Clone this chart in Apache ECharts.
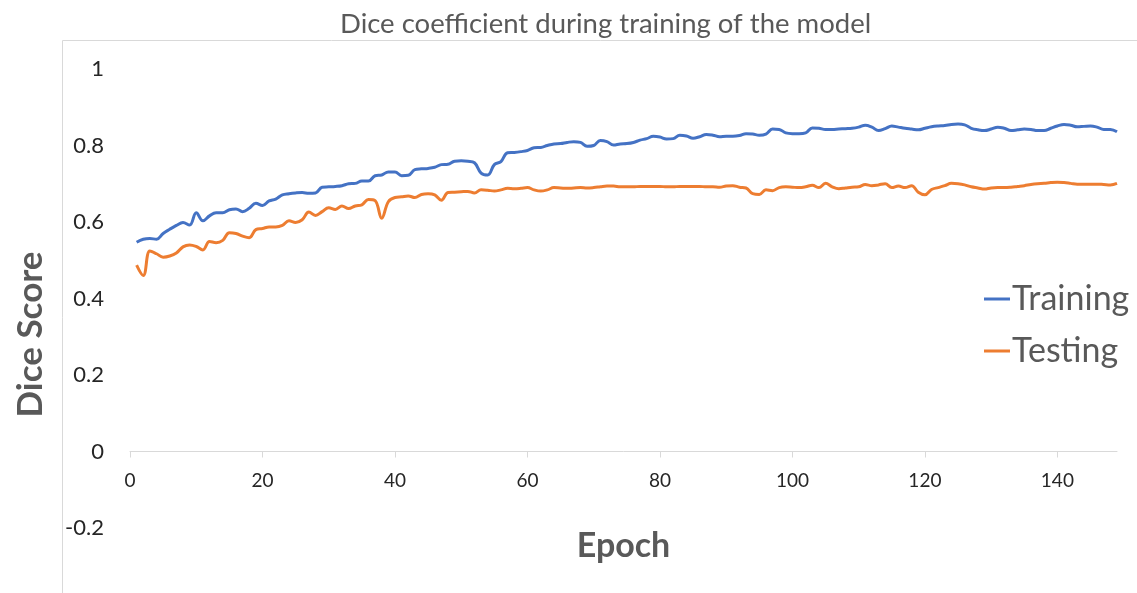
<!DOCTYPE html>
<html>
<head>
<meta charset="utf-8">
<title>Dice coefficient</title>
<script src="https://cdn.jsdelivr.net/npm/echarts@6/dist/echarts.min.js"></script>
<style>
  html, body { margin: 0; padding: 0; background: #fff; }
  #chart { width: 1137px; height: 593px; }
</style>
</head>
<body>
<div id="chart"></div>
<script>
// values, one per epoch (1..149)
var training = [
  0.547, 0.555, 0.557, 0.555, 0.570, 0.581, 0.591, 0.599, 0.592, 0.624,
  0.603, 0.616, 0.624, 0.624, 0.632, 0.634, 0.627, 0.636, 0.649, 0.643,
  0.655, 0.660, 0.671, 0.674, 0.676, 0.677, 0.675, 0.676, 0.691, 0.692,
  0.693, 0.695, 0.700, 0.701, 0.707, 0.707, 0.721, 0.723, 0.731, 0.731,
  0.721, 0.722, 0.737, 0.739, 0.740, 0.743, 0.750, 0.751, 0.759, 0.760,
  0.759, 0.755, 0.728, 0.723, 0.750, 0.758, 0.781, 0.782, 0.784, 0.787,
  0.794, 0.795, 0.800, 0.804, 0.805, 0.808, 0.810, 0.808, 0.798, 0.800,
  0.813, 0.810, 0.801, 0.804, 0.805, 0.808, 0.814, 0.818, 0.824, 0.822,
  0.817, 0.818, 0.827, 0.825, 0.819, 0.823, 0.829, 0.827, 0.823, 0.824,
  0.824, 0.826, 0.831, 0.830, 0.827, 0.830, 0.843, 0.842, 0.833, 0.831,
  0.831, 0.833, 0.846, 0.845, 0.842, 0.842, 0.843, 0.844, 0.845, 0.848,
  0.853, 0.848, 0.839, 0.844, 0.851, 0.848, 0.845, 0.843, 0.841, 0.845,
  0.849, 0.851, 0.852, 0.855, 0.856, 0.854, 0.845, 0.841, 0.839, 0.843,
  0.848, 0.845, 0.839, 0.841, 0.843, 0.842, 0.839, 0.839, 0.845, 0.851,
  0.855, 0.853, 0.849, 0.850, 0.851, 0.848, 0.842, 0.842, 0.836
];
var testing = [
  0.487, 0.460, 0.524, 0.517, 0.508, 0.511, 0.519, 0.535, 0.540, 0.536,
  0.527, 0.549, 0.546, 0.552, 0.572, 0.570, 0.563, 0.559, 0.580, 0.583,
  0.587, 0.587, 0.591, 0.603, 0.599, 0.606, 0.626, 0.617, 0.627, 0.637,
  0.633, 0.642, 0.635, 0.642, 0.645, 0.659, 0.656, 0.610, 0.653, 0.664,
  0.666, 0.668, 0.664, 0.672, 0.674, 0.671, 0.657, 0.677, 0.678, 0.679,
  0.680, 0.676, 0.684, 0.683, 0.681, 0.684, 0.688, 0.687, 0.688, 0.690,
  0.684, 0.681, 0.684, 0.690, 0.689, 0.688, 0.689, 0.690, 0.689, 0.690,
  0.692, 0.694, 0.694, 0.692, 0.692, 0.692, 0.693, 0.693, 0.693, 0.693,
  0.692, 0.692, 0.693, 0.693, 0.693, 0.693, 0.692, 0.692, 0.691, 0.694,
  0.695, 0.691, 0.689, 0.674, 0.672, 0.684, 0.682, 0.690, 0.692, 0.691,
  0.690, 0.692, 0.696, 0.690, 0.701, 0.692, 0.687, 0.689, 0.691, 0.692,
  0.698, 0.695, 0.697, 0.700, 0.690, 0.694, 0.690, 0.695, 0.678, 0.671,
  0.685, 0.690, 0.695, 0.701, 0.700, 0.697, 0.692, 0.689, 0.686, 0.689,
  0.690, 0.690, 0.691, 0.693, 0.695, 0.698, 0.700, 0.701, 0.703, 0.704,
  0.703, 0.701, 0.699, 0.699, 0.699, 0.699, 0.698, 0.697, 0.701
];

function pairs(vals) {
  var out = [];
  for (var i = 0; i < vals.length; i++) out.push([i + 1, vals[i]]);
  return out;
}

var font = 'Lato';
var grey = '#595959';

var myChart = echarts.init(document.getElementById('chart'));
var option = {
  animation: false,
  title: {
    text: 'Dice coefficient during training of the model',
    left: 335,
    top: 5,
    textStyle: { fontFamily: font, fontSize: 27.5, fontWeight: 'normal', color: grey }
  },
  legend: {
    orient: 'vertical',
    left: 979,
    top: 277,
    itemGap: 18,
    itemWidth: 26,
    itemHeight: 3,
    icon: 'rect',
    textStyle: { fontFamily: font, fontSize: 34, color: grey, padding: [0, 0, 0, -3] },
    data: ['Training', 'Testing']
  },
  graphic: [{
    type: 'rect',
    silent: true,
    shape: { x: 62.5, y: 40.5, width: 1200, height: 700 },
    style: { fill: 'none', stroke: '#d9d9d9', lineWidth: 1 }
  }],
  grid: { left: 130, right: 20, top: 69, bottom: 65, outerBoundsMode: 'none' },
  xAxis: {
    type: 'value',
    min: 0,
    max: 149,
    interval: 20,
    name: 'Epoch',
    nameLocation: 'middle',
    nameGap: 1,
    nameTextStyle: { fontFamily: font, fontSize: 34, fontWeight: 'bold', color: grey },
    axisLine: { onZero: true, lineStyle: { color: '#d9d9d9', width: 1 } },
    axisTick: { show: true, inside: false, length: 6, lineStyle: { color: '#d9d9d9' } },
    axisLabel: { fontFamily: font, fontSize: 19, color: '#262626', margin: -57, showMaxLabel: false },
    splitLine: { show: false }
  },
  yAxis: {
    type: 'value',
    min: -0.2,
    max: 1,
    interval: 0.2,
    name: 'Dice Score',
    nameLocation: 'middle',
    nameGap: 82,
    nameTextStyle: { fontFamily: font, fontSize: 35, fontWeight: 'bold', color: grey, padding: [0, 72, 0, 0] },
    axisLine: { show: false },
    axisTick: { show: false },
    axisLabel: { fontFamily: font, fontSize: 22, color: '#262626', margin: 26 },
    splitLine: { show: false }
  },
  series: [{
    name: 'Training',
    type: 'line',
    smooth: 0.4,
    showSymbol: false,
    itemStyle: { color: '#4472C4' },
    lineStyle: { color: '#4472C4', width: 3 },
    data: pairs(training)
  }, {
    name: 'Testing',
    type: 'line',
    smooth: 0.4,
    showSymbol: false,
    itemStyle: { color: '#ED7D31' },
    lineStyle: { color: '#ED7D31', width: 3 },
    data: pairs(testing)
  }]
};
myChart.setOption(option);
window.addEventListener('resize', function () {
  myChart.resize();
});
</script>
</body>
</html>
